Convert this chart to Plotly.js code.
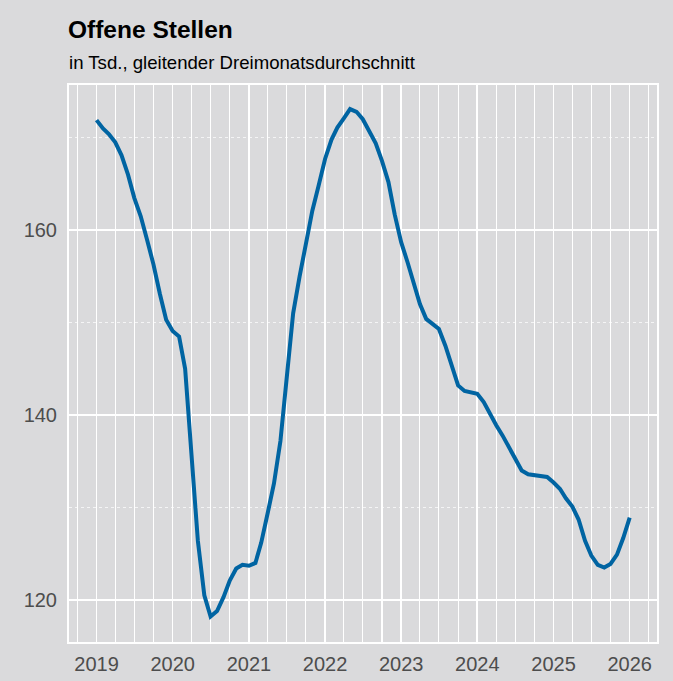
<!DOCTYPE html>
<html>
<head>
<meta charset="utf-8">
<script src="https://cdn.plot.ly/plotly-3.0.1.min.js"></script>
<style>html,body{margin:0;padding:0;background:#dadadc;}</style>
</head>
<body>
<div id="chart" style="width:673px;height:681px;"></div>
<script>
const titleText = "Offene Stellen";
const subtitleText = "in Tsd., gleitender Dreimonatsdurchschnitt";

const months = [
"2019-01-01","2019-02-01","2019-03-01","2019-04-01","2019-05-01","2019-06-01","2019-07-01","2019-08-01","2019-09-01","2019-10-01","2019-11-01","2019-12-01",
"2020-01-01","2020-02-01","2020-03-01","2020-04-01","2020-05-01","2020-06-01","2020-07-01","2020-08-01","2020-09-01","2020-10-01","2020-11-01","2020-12-01",
"2021-01-01","2021-02-01","2021-03-01","2021-04-01","2021-05-01","2021-06-01","2021-07-01","2021-08-01","2021-09-01","2021-10-01","2021-11-01","2021-12-01",
"2022-01-01","2022-02-01","2022-03-01","2022-04-01","2022-05-01","2022-06-01","2022-07-01","2022-08-01","2022-09-01","2022-10-01","2022-11-01","2022-12-01",
"2023-01-01","2023-02-01","2023-03-01","2023-04-01","2023-05-01","2023-06-01","2023-07-01","2023-08-01","2023-09-01","2023-10-01","2023-11-01","2023-12-01",
"2024-01-01","2024-02-01","2024-03-01","2024-04-01","2024-05-01","2024-06-01","2024-07-01","2024-08-01","2024-09-01","2024-10-01","2024-11-01","2024-12-01",
"2025-01-01","2025-02-01","2025-03-01","2025-04-01","2025-05-01","2025-06-01","2025-07-01","2025-08-01","2025-09-01","2025-10-01","2025-11-01","2025-12-01",
"2026-01-01"
];

const vacancies = [
171.9,171.0,170.4,169.5,168.1,166.0,163.5,161.5,158.9,156.3,153.1,150.3,
149.1,148.5,145.0,136.0,126.4,120.5,118.2,118.8,120.3,122.1,123.4,123.8,
123.7,124.0,126.2,129.4,132.6,137.2,143.5,151.0,155.0,158.6,162.1,164.8,
167.7,169.8,171.1,172.1,173.1,172.8,172.0,170.7,169.4,167.5,165.2,161.7,
158.7,156.5,154.4,152.0,150.4,149.8,149.3,147.5,145.3,143.2,142.6,142.4,
142.3,141.4,140.1,138.9,137.8,136.5,135.1,134.0,133.6,133.5,133.5,133.3,
132.7,132.0,131.0,130.1,128.7,126.4,124.8,123.8,123.5,123.9,124.9,126.7,
128.9
];

const yTicks = [120, 140, 160];
const xTickVals = ["2019-01-01","2020-01-01","2021-01-01","2022-01-01","2023-01-01","2024-01-01","2025-01-01","2026-01-01"];
const xTickText = ["2019","2020","2021","2022","2023","2024","2025","2026"];

const bg = "#dadadc";
const W = 673, H = 681;
const m = {l: 69, r: 16, t: 85, b: 39};
const plotW = W - m.l - m.r, plotH = H - m.t - m.b;
const fam = "Liberation Sans, Arial, sans-serif";

const trace = {
  x: months, y: vacancies, type: "scatter", mode: "lines",
  line: {color: "#0064a2", width: 4},
  hoverinfo: "skip"
};

const layout = {
  width: W, height: H,
  margin: m,
  paper_bgcolor: bg, plot_bgcolor: bg,
  showlegend: false,
  font: {family: fam, color: "#4d4d4d"},
  xaxis: {
    type: "date",
    range: ["2018-08-22", "2026-05-12"],
    tickvals: xTickVals, ticktext: xTickText,
    tickfont: {size: 20, color: "#4d4d4d", family: fam},
    ticks: "outside", ticklen: 3, tickcolor: "rgba(0,0,0,0)",
    showgrid: true, gridcolor: "#ffffff", gridwidth: 1.6,
    minor: {dtick: "M3", showgrid: true, gridcolor: "#ffffff", gridwidth: 1.1},
    showline: true, linecolor: "#ffffff", linewidth: 2, mirror: true,
    zeroline: false, fixedrange: true
  },
  yaxis: {
    range: [115.45, 175.7],
    tickvals: yTicks,
    tickfont: {size: 20, color: "#4d4d4d", family: fam},
    ticks: "outside", ticklen: 6, tickcolor: "rgba(0,0,0,0)",
    showgrid: true, gridcolor: "#ffffff", gridwidth: 1.8,
    minor: {dtick: 10, showgrid: true, gridcolor: "rgba(255,255,255,0.7)", gridwidth: 1, griddash: "dot"},
    showline: true, linecolor: "#ffffff", linewidth: 2, mirror: true,
    zeroline: false, fixedrange: true
  },
  annotations: [
    {text: "<b>" + titleText + "</b>", xref: "paper", yref: "paper",
     x: (66 - m.l) / plotW, y: 1 + (m.t - 30) / plotH, xanchor: "left", yanchor: "middle",
     showarrow: false, font: {size: 24.5, color: "#000000", family: fam}},
    {text: subtitleText, xref: "paper", yref: "paper",
     x: (67 - m.l) / plotW, y: 1 + (m.t - 62.5) / plotH, xanchor: "left", yanchor: "middle",
     showarrow: false, font: {size: 18.6, color: "#000000", family: fam}}
  ]
};

Plotly.newPlot("chart", [trace], layout, {displayModeBar: false, staticPlot: true});
</script>
</body>
</html>
